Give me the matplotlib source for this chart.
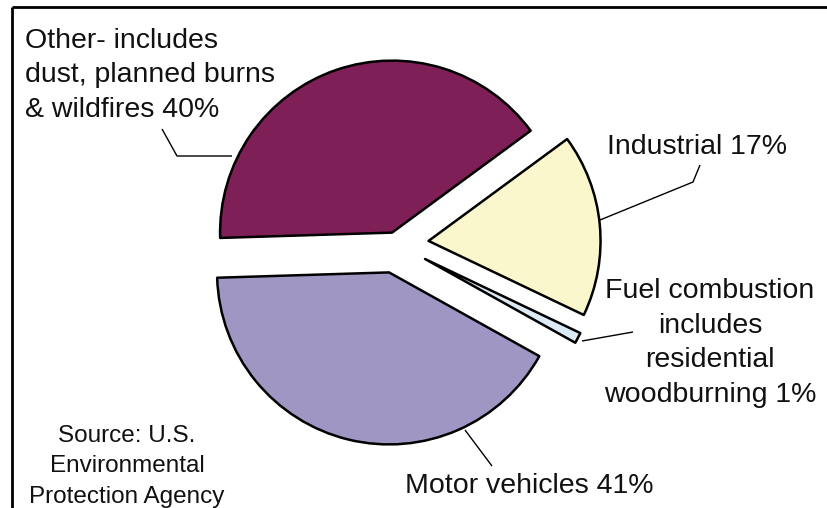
import matplotlib
matplotlib.use("Agg")
import matplotlib.pyplot as plt
from matplotlib.lines import Line2D

plt.rcParams['font.family'] = ['Liberation Sans', 'DejaVu Sans']

# ---- data ----
categories = ["Industrial", "Other", "Motor vehicles", "Fuel combustion"]
shares = [17, 40, 41, 1]
colors = ["#FAF7CD", "#7E1F57", "#A096C4", "#DCEAF5"]
explode = [0.19, 0.07, 0.17, 0.19]

label_other = ["Other- includes", "dust, planned burns", "& wildfires 40%"]
label_industrial = ["Industrial 17%"]
label_fuel = ["Fuel combustion", "includes", "residential", "woodburning 1%"]
label_motor = ["Motor vehicles 41%"]
label_source = ["Source: U.S.", "Environmental", "Protection Agency"]

W, H = 827, 508
fig = plt.figure(figsize=(W / 100, H / 100), dpi=100)
ax = fig.add_axes([0, 0, 1, 1])

R = 172.0          # pie radius in pixels
CX, CY = 396, 244  # pie centre in pixels (from top-left)

ax.pie(shares, colors=colors, explode=explode, startangle=-25.5,
       counterclock=True,
       wedgeprops=dict(edgecolor="black", linewidth=1.8, joinstyle="round"))
ax.set_xlim(-CX / R, (W - CX) / R)
ax.set_ylim(-(H - CY) / R, CY / R)
ax.set_aspect("auto")
ax.axis("off")


def fx(x):
    return x / W


def fy(y):
    return 1 - y / H


def line(pts, lw=1.0):
    xs = [fx(p[0]) for p in pts]
    ys = [fy(p[1]) for p in pts]
    fig.add_artist(Line2D(xs, ys, transform=fig.transFigure, color="black",
                          linewidth=lw, solid_capstyle="butt"))


def lines_text(lines, x, y0, dy, size, ha="left"):
    for i, t in enumerate(lines):
        fig.text(fx(x), fy(y0 + i * dy), t, fontsize=size, ha=ha,
                 va="baseline", color="#111111")


# frame
line([(12, 7), (W, 7)], lw=2.0)
line([(12, 7), (12, H)], lw=2.0)

# labels
lines_text(label_other, 25, 48, 34.5, 20.5)
lines_text(label_industrial, 607, 154, 35, 20.5)
lines_text(label_fuel, 710, 298, 34.7, 20.5, ha="center")
lines_text(label_motor, 405, 493, 35, 20.5)
lines_text(label_source, 127, 442, 30.5, 17.5, ha="center")

# leader lines
line([(162, 129), (177, 156), (232, 156)])
line([(700, 165), (693, 182), (600, 220)])
line([(633, 332), (582, 341)])
line([(492, 466), (465, 430)])

fig.savefig("out.png", dpi=100, facecolor="white")
